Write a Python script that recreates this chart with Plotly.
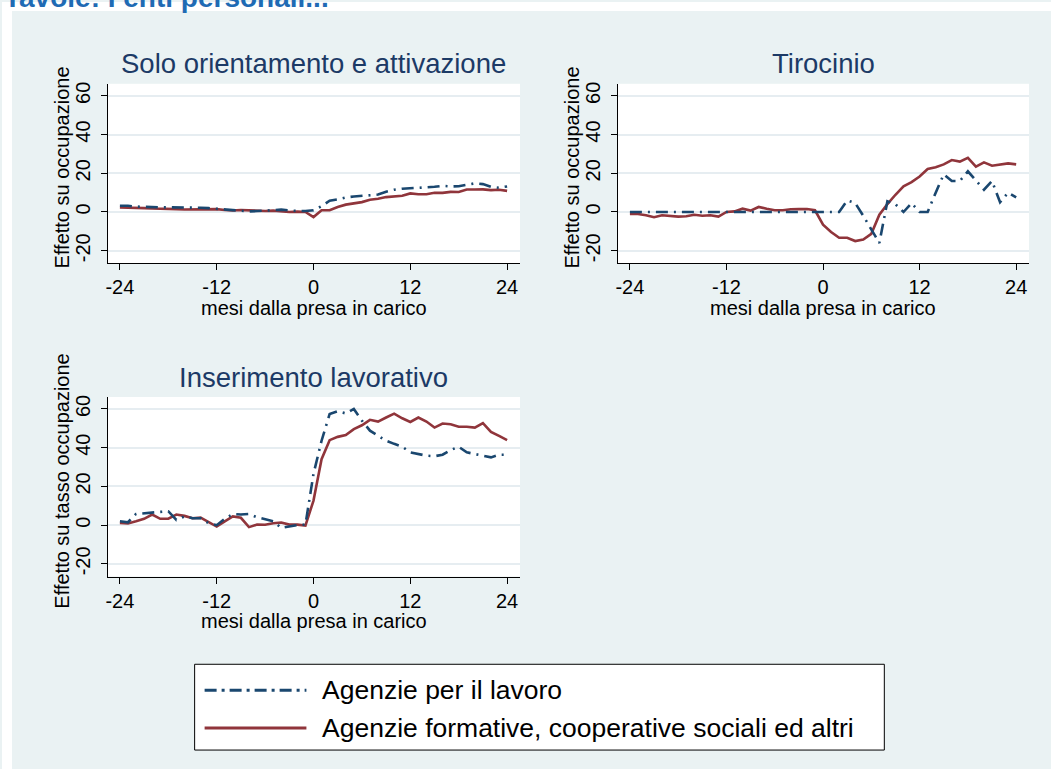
import plotly.graph_objects as go

W, H = 1051, 769

months = list(range(-24, 25))
x_ticks = [-24, -12, 0, 12, 24]
y_ticks = [-20, 0, 20, 40, 60]

series_names = ["Agenzie per il lavoro",
                "Agenzie formative, cooperative sociali ed altri"]
panel_titles = ["Solo orientamento e attivazione", "Tirocinio", "Inserimento lavorativo"]
y_titles = ["Effetto su occupazione", "Effetto su occupazione", "Effetto su tasso occupazione"]
x_title = "mesi dalla presa in carico"

# Solo orientamento e attivazione
orient_apl = [3.2, 3.2, 2.8, 2.6, 2.4, 2.4, 2.4, 2.4, 2.4, 2.4, 2.2, 2.0,
              1.7, 1.2, 0.8, 0.5, 0.3, 0.5, 0.6, 0.9, 1.2, 0.8, 0.5, 0.5,
              0.9, 3.0, 5.8, 6.5, 7.5, 8.0, 8.3, 8.5, 9.0, 10.5, 11.5, 12.0,
              12.2, 12.3, 12.5, 13.0, 13.5, 13.2, 13.3, 14.0, 14.8, 14.4, 13.0, 12.5,
              13.2]
orient_alt = [2.3, 2.3, 2.2, 2.0, 1.8, 1.8, 1.8, 1.5, 1.3, 1.3, 1.5, 1.5,
              1.5, 1.0, 0.8, 1.0, 0.8, 0.8, 0.5, 0.7, 0.5, 0.0, 0.2, 0.0,
              -2.6, 0.9, 0.9, 2.6, 3.8, 4.6, 5.1, 6.3, 6.8, 7.7, 8.0, 8.4,
              9.6, 9.2, 9.2, 9.9, 9.9, 10.4, 10.3, 11.6, 11.6, 11.7, 11.3, 11.5,
              10.9]

# Tirocinio
tiro_apl = [0, 0, 0, 0, 0, 0, 0, 0, 0, 0, 0, 0,
            0, 0, 0, 0, 0, 0, 0, 0, 0, 0, 0, 0,
            0, 0, 0, 6.0, 4.6, -2.0, -9.0, -16.0, 5.5, 4.0, 0.0, 4.6,
            0.0, 0.0, 10.0, 19.5, 16.0, 16.0, 21.0, 16.0, 11.5, 16.0, 5.0, 10.0,
            7.5]
tiro_alt = [-1.0, -1.0, -1.7, -2.7, -1.7, -1.9, -2.4, -2.2, -1.4, -1.9, -1.7, -2.4,
            0.0, 0.3, 1.7, 0.7, 2.6, 1.7, 0.9, 0.9, 1.4, 1.5, 1.5, 0.9,
            -6.5, -10.3, -13.3, -13.3, -15.0, -14.2, -11.3, -1.4, 4.1, 8.9, 13.2, 15.4,
            18.3, 22.2, 23.1, 24.6, 26.8, 26.0, 28.0, 23.4, 25.6, 23.9, 24.6, 25.1,
            24.6]

# Inserimento lavorativo
ins_apl = [2.0, 1.5, 5.8, 6.2, 6.5, 7.0, 7.2, 2.7, 4.5, 3.6, 3.6, 1.0,
           0.0, 3.3, 5.8, 5.5, 5.8, 4.1, 3.0, 2.0, -1.4, -0.7, 0.0, 0.3,
           26.5, 43.6, 57.4, 58.8, 57.7, 60.0, 54.0, 48.8, 46.2, 43.6, 42.0, 40.5,
           37.6, 36.8, 35.9, 35.6, 36.4, 38.8, 40.5, 37.6, 36.8, 35.9, 35.0, 36.4,
           36.4]
ins_alt = [1.2, 0.9, 2.0, 3.3, 5.5, 3.3, 3.4, 5.5, 4.8, 3.6, 3.9, 1.7,
           -0.7, 2.0, 4.5, 3.8, -1.0, 0.3, 0.2, 1.0, 1.4, 0.3, 0.3, -0.2,
           12.7, 34.1, 43.9, 45.6, 46.5, 49.6, 51.6, 54.4, 53.5, 55.6, 57.6, 55.2,
           53.3, 55.6, 53.5, 50.4, 52.5, 52.1, 50.8, 50.8, 50.4, 52.7, 48.2, 46.1,
           43.9]

panels = [(orient_apl, orient_alt), (tiro_apl, tiro_alt), (ins_apl, ins_alt)]

NAVY = "#1A476F"
MAROON = "#90353B"
BG = "#EAF2F3"
GRID = "#E6EDF1"
FONT = "Liberation Sans, Arial, sans-serif"

# pixel boxes of the three plot regions: (left, right, top, bottom)
boxes = [(106, 519, 82, 262), (617, 1029, 82, 262), (106, 519, 396, 576)]

def px_x(v):
    return v / W

def px_y(v):
    return 1 - v / H

fig = go.Figure()
layout = dict(
    width=W, height=H,
    margin=dict(l=0, r=0, t=0, b=0),
    paper_bgcolor=BG, plot_bgcolor="white",
    showlegend=False,
    font=dict(family=FONT, size=20, color="black"),
)

annotations = []
shapes = []

for i, ((apl, alt), (l, r, t, b)) in enumerate(zip(panels, boxes)):
    sfx = "" if i == 0 else str(i + 1)
    xa, ya = "x" + sfx, "y" + sfx
    fig.add_trace(go.Scatter(x=months, y=alt, mode="lines", name=series_names[1],
                             line=dict(color=MAROON, width=2.6),
                             xaxis=xa, yaxis=ya))
    fig.add_trace(go.Scatter(x=months, y=apl, mode="lines", name=series_names[0],
                             line=dict(color=NAVY, width=2.6, dash="12px,6px,2px,6px"),
                             xaxis=xa, yaxis=ya))
    layout["xaxis" + sfx] = dict(
        domain=[px_x(l), px_x(r)], anchor=ya, range=[-25.5, 25.6],
        tickvals=x_ticks, ticktext=[str(v) for v in x_ticks],
        ticks="outside", ticklen=6, tickcolor="black", tickwidth=1,
        showline=True, linecolor="black", linewidth=1,
        showgrid=False, zeroline=False, ticklabelstandoff=0,
        tickfont=dict(size=20, color="black"),
    )
    layout["yaxis" + sfx] = dict(
        domain=[px_y(b), px_y(t)], anchor=xa, range=[-26.5, 66.2],
        tickvals=y_ticks, ticktext=[str(v) for v in y_ticks],
        tickangle=-90,
        ticks="outside", ticklen=6, tickcolor="black", tickwidth=1,
        showline=True, linecolor="black", linewidth=1,
        showgrid=True, gridcolor=GRID, gridwidth=2, zeroline=False,
        ticklabelstandoff=3,
        tickfont=dict(size=20, color="black"),
    )
    cx = (l + r) / 2
    annotations.append(dict(text=panel_titles[i], x=px_x(cx), y=px_y(t - 20),
                            xref="paper", yref="paper", xanchor="center", yanchor="middle",
                            showarrow=False, font=dict(size=27.5, color="#1C3A66", family=FONT)))
    annotations.append(dict(text=x_title, x=px_x(cx), y=px_y(b + 45),
                            xref="paper", yref="paper", xanchor="center", yanchor="middle",
                            showarrow=False, font=dict(size=20, color="black", family=FONT)))
    annotations.append(dict(text=y_titles[i], x=px_x(l - 46), y=px_y((t + b) / 2 - 6),
                            xref="paper", yref="paper", xanchor="center", yanchor="middle",
                            textangle=-90, showarrow=False,
                            font=dict(size=20, color="black", family=FONT)))

# white strips around the light background
shapes.append(dict(type="rect", xref="paper", yref="paper", x0=0, x1=1,
                   y0=px_y(9), y1=1, fillcolor="white", line=dict(width=0), layer="below"))
shapes.append(dict(type="rect", xref="paper", yref="paper", x0=0, x1=px_x(10),
                   y0=0, y1=1, fillcolor="white", line=dict(width=0), layer="below"))

# clipped page heading
annotations.append(dict(text="<b>Tavole: I enti personali...</b>", x=px_x(0), y=px_y(13),
                        xref="paper", yref="paper", xanchor="left", yanchor="bottom",
                        showarrow=False, font=dict(size=28, color="#1F6BB4", family=FONT)))

# legend box drawn by hand
lx0, lx1, ly0, ly1 = 193, 884, 664, 750
shapes.append(dict(type="rect", xref="paper", yref="paper",
                   x0=px_x(lx0), x1=px_x(lx1), y0=px_y(ly1), y1=px_y(ly0),
                   fillcolor="white", line=dict(color="black", width=1)))
rows = [(690, NAVY, "12px,5px,3px,5px", series_names[0]),
        (728, MAROON, "solid", series_names[1])]
for yy, col, dash, name in rows:
    shapes.append(dict(type="line", xref="paper", yref="paper",
                       x0=px_x(203), x1=px_x(305), y0=px_y(yy), y1=px_y(yy),
                       line=dict(color=col, width=3, dash=dash)))
    annotations.append(dict(text=name, x=px_x(319), y=px_y(yy),
                            xref="paper", yref="paper", xanchor="left", yanchor="middle",
                            showarrow=False, font=dict(size=26.5, color="black", family=FONT)))

layout["annotations"] = annotations
layout["shapes"] = shapes
fig.update_layout(**layout)
fig.write_html("out.html",
               config={"displayModeBar": False},
               post_script="document.body.style.margin='0';document.body.style.padding='0';"
                           "document.body.style.overflow='hidden';")
